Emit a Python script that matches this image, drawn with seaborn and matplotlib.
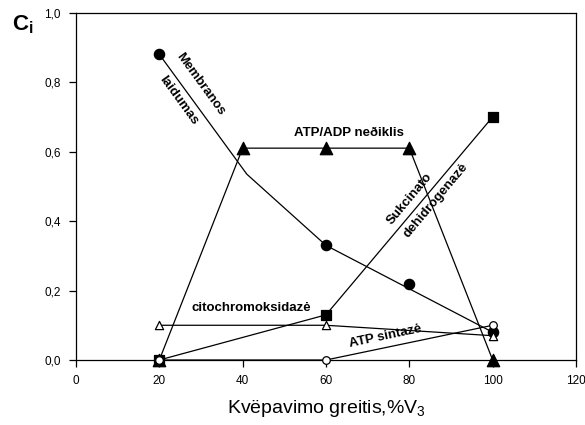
import numpy as np
import pandas as pd
import matplotlib
matplotlib.use("Agg")
import matplotlib.pyplot as plt
import seaborn as sns

# ---- data ----
memb_x = [20, 60, 80, 100]
memb_y = [0.88, 0.33, 0.22, 0.08]
memb_line_x = [20, 41, 60, 100]
memb_line_y = [0.88, 0.535, 0.33, 0.08]

atpadp_x = [20, 40, 60, 80, 100]
atpadp_y = [0.0, 0.61, 0.61, 0.61, 0.0]

sdh_x = [20, 60, 100]
sdh_y = [0.0, 0.13, 0.70]

cito_x = [20, 60, 100]
cito_y = [0.10, 0.10, 0.07]

atps_x = [20, 60, 100]
atps_y = [0.0, 0.0, 0.10]

x_ticks = [0, 20, 40, 60, 80, 100, 120]
y_ticks = [0.0, 0.2, 0.4, 0.6, 0.8, 1.0]
y_tick_labels = ["0,0", "0,2", "0,4", "0,6", "0,8", "1,0"]

sns.set_style("ticks")
plt.rcParams['font.family'] = ['Liberation Sans', 'DejaVu Sans']
plt.rcParams['mathtext.fontset'] = 'custom'
plt.rcParams['mathtext.rm'] = 'Liberation Sans'
plt.rcParams['mathtext.bf'] = 'Liberation Sans:bold'
plt.rcParams['mathtext.it'] = 'Liberation Sans:italic'
plt.rcParams['text.color'] = 'black'
plt.rcParams['axes.labelcolor'] = 'black'
plt.rcParams['xtick.color'] = 'black'
plt.rcParams['ytick.color'] = 'black'

fig = plt.figure(figsize=(5.85, 4.25), dpi=100)
ax = fig.add_axes([76/585, 1-360/425, 500/585, 347.3/425])

lw = 0.9
def line(x, y):
    sns.lineplot(x=x, y=y, ax=ax, color="black", linewidth=lw, sort=False,
                 estimator=None, zorder=2)

line(memb_line_x, memb_line_y)
line(atpadp_x, atpadp_y)
line(sdh_x, sdh_y)
line(cito_x, cito_y)
line(atps_x, atps_y)

def pts(x, y, marker, size, face, zo):
    sns.scatterplot(x=x, y=y, ax=ax, marker=marker, s=size, color=face,
                    edgecolor="black", linewidth=0.9, zorder=zo, clip_on=False)

pts(atpadp_x, atpadp_y, "^", 80, "black", 3)
pts(memb_x, memb_y, "o", 55, "black", 4)
pts(sdh_x, sdh_y, "s", 50, "black", 4)
pts(cito_x, cito_y, "^", 35, "white", 5)
pts(atps_x, atps_y, "o", 30, "white", 6)

ax.set_xlim(0, 120)
ax.set_ylim(0, 1.0)
ax.set_xticks(x_ticks)
ax.set_xticklabels([str(v) for v in x_ticks])
ax.set_yticks(y_ticks)
ax.set_yticklabels(y_tick_labels)
ax.tick_params(axis="both", direction="out", length=5, width=0.9,
               labelsize=8.5, colors="black", pad=6)
for s in ax.spines.values():
    s.set_visible(True)
    s.set_linewidth(0.9)
    s.set_color("black")

ax.set_xlabel(r"Kvëpavimo greitis,%V$_3$", fontsize=14, labelpad=8,
              color="black")
ax.set_ylabel("")

fw = "bold"
fs = 9.5
def lab(x, y, s, rot=0):
    ax.text(x, y, s, rotation=rot, ha="center", va="center", fontsize=fs,
            fontweight=fw, color="black", rotation_mode="anchor")

lab(29.9, 0.795, "Membranos", -54)
lab(24.5, 0.747, "laidumas", -54)
lab(65.5, 0.655, "ATP/ADP neðiklis")
lab(80.2, 0.465, "Sukcinato", 50)
lab(86.3, 0.459, "dehidrogenazė", 50)
lab(42, 0.15, "citochromoksidazė")
lab(74.2, 0.068, "ATP sintazė", 12)

fig.text(12/585, 1-30/425, r"$\mathbf{C}_\mathbf{i}$", fontsize=16,
         ha="left", va="baseline", color="black")

fig.savefig("out.png", dpi=100)
